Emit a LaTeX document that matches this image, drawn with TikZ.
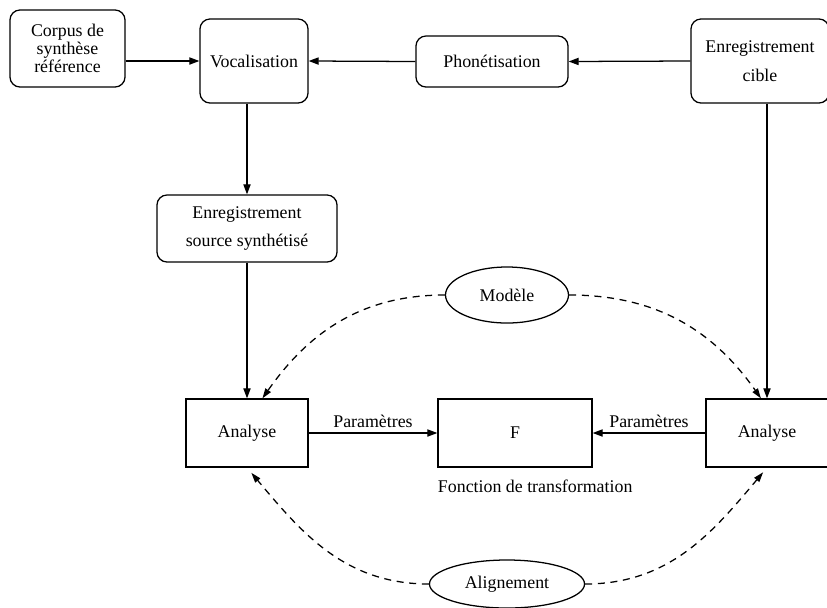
\documentclass[tikz,border=0pt]{standalone}
\usepackage{fontspec}
\setmainfont{Liberation Serif}
\usetikzlibrary{positioning,arrows.meta,shapes.geometric}

\begin{document}
\begin{tikzpicture}[x=0.025cm, y=0.025cm, line width=0.9pt,
    font=\fontsize{12.7pt}{12.8pt}\selectfont,
    every node/.style={align=center},
    rbox/.style={draw, rounded corners=0.25cm, inner sep=0pt},
    sbox/.style={draw, inner sep=0pt, minimum width=3.05cm, minimum height=1.7cm},
    oval/.style={draw, ellipse, inner sep=0pt},
    flow/.style={-{Triangle[length=2.5mm, width=1.8mm]}},
    link/.style={dashed, dash pattern=on 5pt off 4pt, -{Triangle[length=2.5mm, width=1.6mm]}}]
  \path[use as bounding box] (0,0) rectangle (827,-607);
  \clip (0,0) rectangle (827,-607);

  % Chaine de preparation
  \node[rbox, minimum width=2.875cm, minimum height=1.925cm] (corpus) at (67.5,-48.5)
    {Corpus de\\synthèse\\référence};
  \node[rbox, minimum width=2.7cm, minimum height=2.1cm] (voc) at (254,-61) {Vocalisation};
  \node[rbox, minimum width=3.8cm, minimum height=1.275cm] (phon) at (492,-61.5) {Phonétisation};
  \node[rbox, minimum width=3.45cm, minimum height=2.1cm] (cible) at (760,-61)
    {Enregistrement\\[7.8pt]cible};
  \node[rbox, minimum width=4.5cm, minimum height=1.675cm] (src) at (247,-228.5)
    {Enregistrement\\[7.8pt]source synthétisé};

  % Analyse et fonction
  \node[sbox] (ana1) at (247,-433) {Analyse};
  \node[sbox, minimum width=3.85cm] (F) at (515,-433) {F};
  \node[sbox] (ana2) at (767,-433) {Analyse};
  \node[anchor=north west, inner sep=0pt, below=0.3cm of F.south west, anchor=north west] (ftxt)
    {Fonction de transformation};

  \node[oval, minimum width=3.075cm, minimum height=1.4cm] (mod) at (507,-295) {Modèle};
  \node[oval, minimum width=3.875cm, minimum height=1.2cm] (alig) at (507,-584) {Alignement};

  % Fleches pleines
  \draw[flow] (corpus.east |- voc.west) -- (voc.west);
  \draw[flow] (phon.west) -- (voc.east);
  \draw[flow] (cible.west) -- (phon.east);
  \draw[flow] (voc.south -| src.north) -- (src.north);
  \draw[flow] (src.south) -- (ana1.north);
  \draw[flow] (cible.south -| ana2.north) -- (ana2.north);
  \draw[flow] (ana1.east) -- node[above, inner sep=3pt] {Paramètres} (F.west);
  \draw[flow] (ana2.west) -- node[above, inner sep=3pt] {Paramètres} (F.east);

  % Liens pointilles
  \draw[link] (mod.west) to[out=180, in=55] (ana1.66);
  \draw[link] (mod.east) to[out=0, in=125] (ana2.100);
  \draw[link, shorten >=0.17cm] (alig.west) to[out=180, in=-50] (ana1.south);
  \draw[link, shorten >=0.15cm] (alig.east) to[out=0, in=-130] (ana2.south);
\end{tikzpicture}
\end{document}
